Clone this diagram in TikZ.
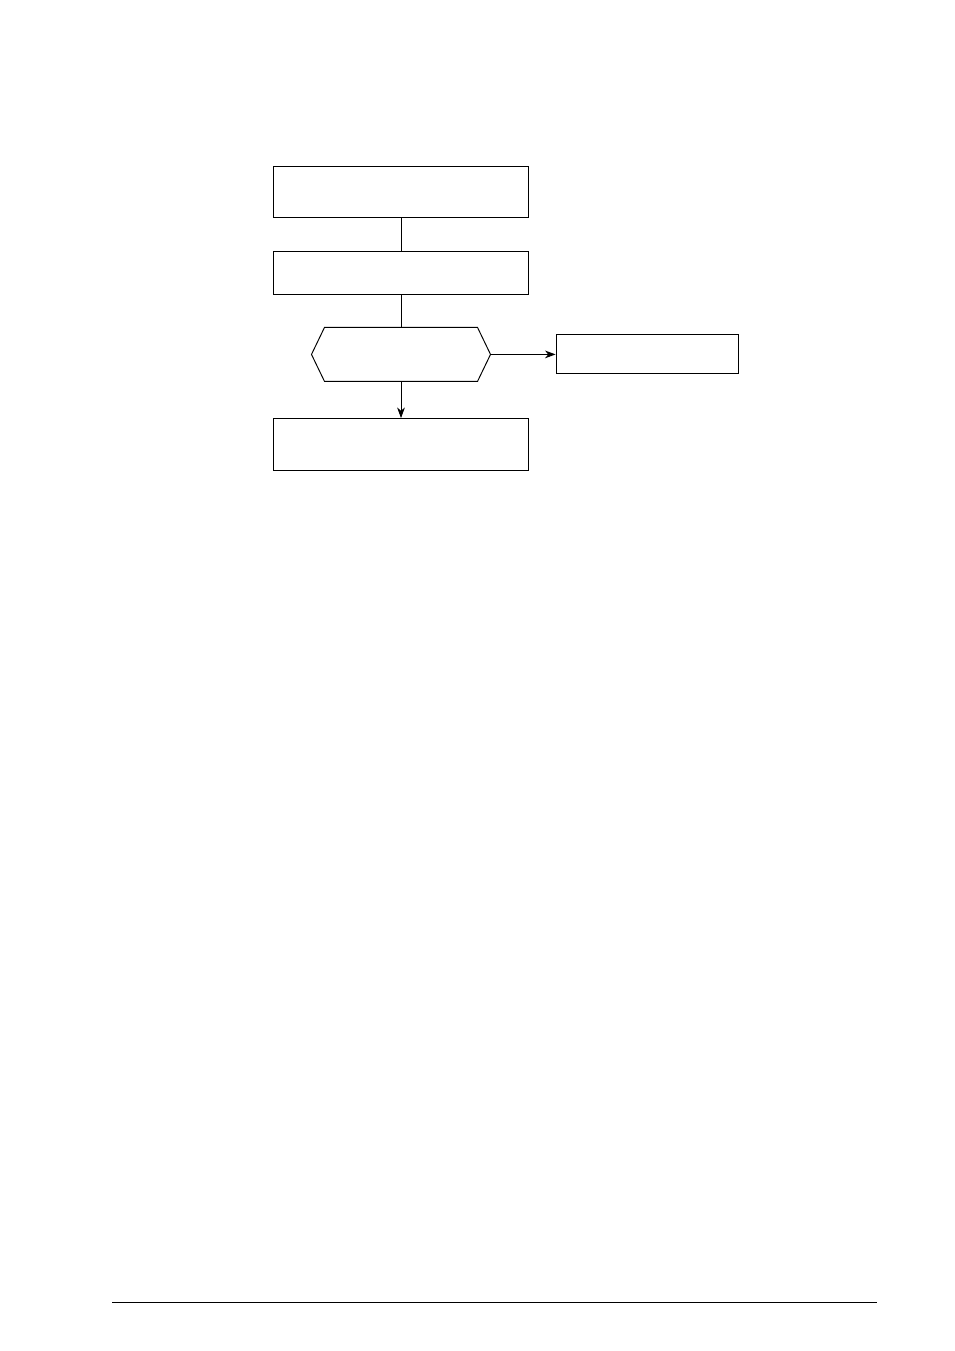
\documentclass[tikz,border=0pt]{standalone}
\usetikzlibrary{positioning,arrows.meta,shapes.symbols}
\tikzset{
->, % connectors are directed
>={Stealth[length=6.6pt, width=4.8pt, inset=2pt]}, % bold arrow heads
x=0.624pt, y=-0.624pt,
every node/.style={line width=0.6pt},
box/.style={draw, rectangle, inner sep=0pt, minimum width=159.7pt, minimum height=32.4pt},
decision/.style={draw, signal, signal to=east and west, signal pointer angle=128.6, inner sep=0pt, minimum width=111.7pt, minimum height=33.7pt},
}
\begin{document}
\begin{tikzpicture}[line width=0.6pt]
\useasboundingbox (0,0) rectangle (954,1351);
\node[box] (start) at (401,192) {};
\node[box, below=20.6pt of start, minimum height=26.8pt] (prep) {};
\node[decision, below=19.7pt of prep] (check) {};
\node[box, right=40.3pt of check, minimum width=113.6pt, minimum height=24.3pt] (side) {};
\node[box, below=22.6pt of check] (result) {};
\draw
(start) edge[-] (prep)
(prep) edge[-] (check)
(check) edge (side)
(check) edge (result)
;
% page rule
\draw[-] (112,1302) -- (877,1302);
\end{tikzpicture}
\end{document}
